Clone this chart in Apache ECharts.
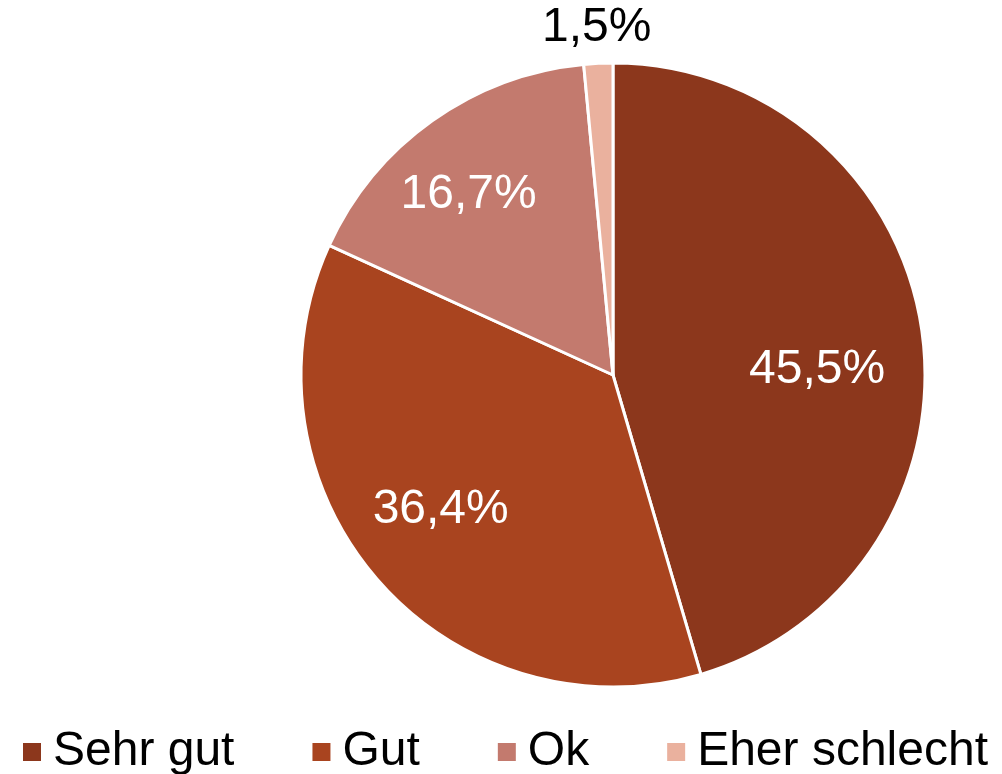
<!DOCTYPE html>
<html>
<head>
<meta charset="utf-8">
<script src="https://cdn.jsdelivr.net/npm/echarts@6/dist/echarts.min.js"></script>
<style>
  html, body { margin: 0; padding: 0; background: #fff; }
  #main { width: 1002px; height: 774px; }
</style>
</head>
<body>
<div id="main"></div>
<script>
// Kategorien und Anteile (%)
var categories = ['Sehr gut', 'Gut', 'Ok', 'Eher schlecht'];
var values = [45.5, 36.4, 16.7, 1.5];
var colors = ['#8C371C', '#A9441F', '#C37A6E', '#EAB19E'];

var R = 312;   // radius in px
// kleine Verschiebung der Beschriftungen (wie im Original)
var labelShift = [[-15, 26], [-5, -10], [-16, 0], [0, 0]];

var pieData = [];
for (var i in categories) {
    pieData.push({ name: categories[i], value: values[i] });
}

var fmt = function (p) {
    return p.value.toFixed(1).replace('.', ',') + '%';
};

var myChart = echarts.init(document.getElementById('main'));

var option = {
    animation: false,
    color: colors,
    legend: {
        data: categories,
        left: 21,
        top: 728,
        width: 990,
        padding: 0,
        icon: 'rect',
        itemWidth: 20,
        itemHeight: 20,
        itemGap: 76,
        textStyle: {
            fontFamily: 'Liberation Sans',
            fontSize: 48,
            color: '#000',
            padding: [0, 0, 0, 6]
        }
    },
    series: [
        {
            // eigentliche Torte
            type: 'pie',
            center: [613, 375],
            radius: [0, R],
            startAngle: 90,
            clockwise: true,
            label: { show: false },
            labelLine: { show: false },
            itemStyle: { borderColor: '#fff', borderWidth: 3 },
            emphasis: { disabled: true },
            data: pieData
        },
        {
            // Beschriftung innen (transparent)
            type: 'pie',
            center: [613, 375],
            radius: [R * 0.4, R],
            startAngle: 90,
            silent: true,
            legendHoverLink: false,
            itemStyle: { color: 'transparent', borderWidth: 0 },
            label: {
                show: true,
                position: 'inside',
                formatter: function (p) { return p.dataIndex < 3 ? fmt(p) : ''; },
                fontFamily: 'Liberation Sans',
                fontSize: 48,
                color: '#fff'
            },
            labelLayout: function (p) {
                return { dx: labelShift[p.dataIndex][0], dy: labelShift[p.dataIndex][1] };
            },
            labelLine: { show: false },
            emphasis: { disabled: true },
            data: pieData.map(function (d) { return { name: d.name + ' ', value: d.value }; })
        },
        {
            // Beschriftung außen fuer kleines Segment
            type: 'pie',
            center: [613, 375],
            radius: [R, R * 1.21],
            startAngle: 90,
            silent: true,
            legendHoverLink: false,
            itemStyle: { color: 'transparent', borderWidth: 0 },
            label: {
                show: true,
                position: 'inside',
                formatter: function (p) { return p.dataIndex === 3 ? fmt(p) : ''; },
                fontFamily: 'Liberation Sans',
                fontSize: 48,
                color: '#000'
            },
            labelLine: { show: false },
            emphasis: { disabled: true },
            data: pieData.map(function (d) { return { name: d.name + '  ', value: d.value }; })
        }
    ]
};

myChart.setOption(option, true);
</script>
</body>
</html>
